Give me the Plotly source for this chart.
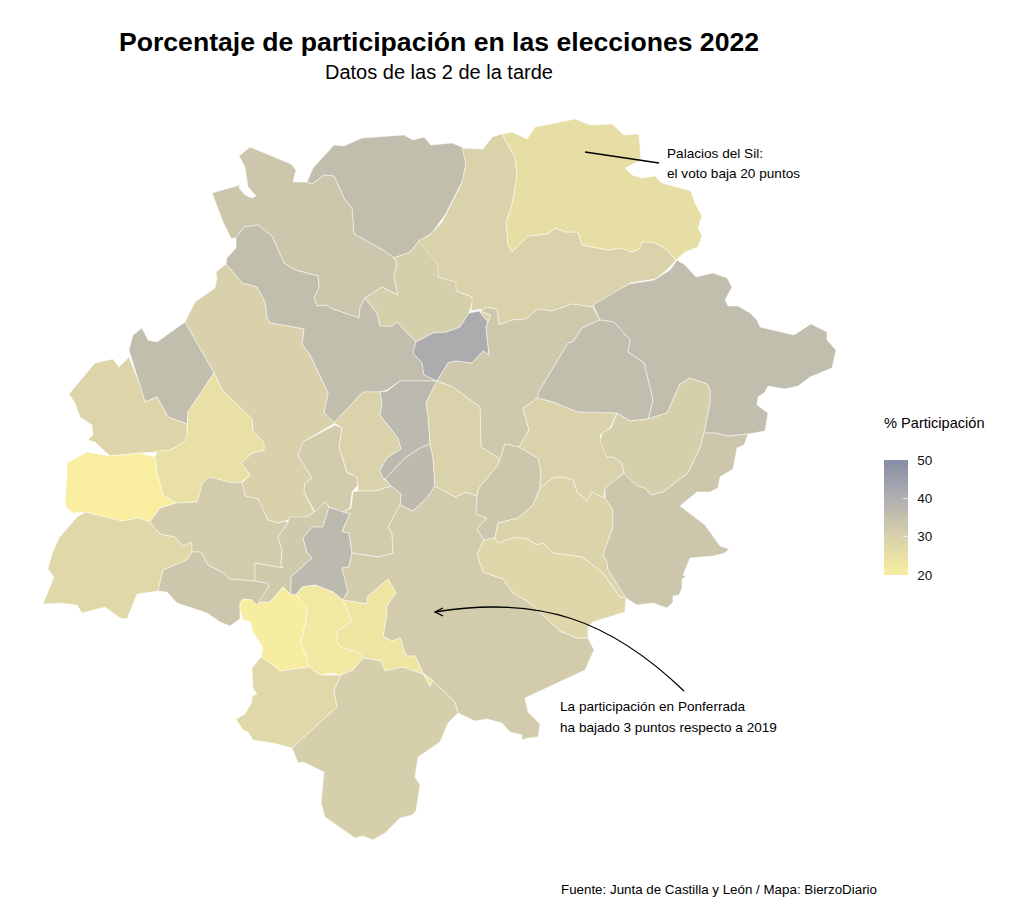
import plotly.graph_objects as go
from plotly.colors import sample_colorscale

# Map outlines of the municipalities, in the map's own units
norte_gris = [(307,182),(313,168),(334,145),(344,146),(362,138),(404,135),(413,140),(424,137),(431,145),(452,143),(462,147),(466,163),(463,180),(445,215),(432,233),(419,241),(410,252),(394,258),(383,250),(354,234),(352,208),(345,200),(334,176),(324,175),(312,184)]
noroeste = [(239,156),(250,147),(291,164),(296,170),(293,182),(307,182),(312,184),(324,175),(334,176),(345,200),(352,208),(354,234),(383,250),(394,258),(397,263),(394,277),(398,295),(382,287),(365,298),(360,308),(359,318),(330,308),(327,305),(317,306),(314,298),(319,287),(318,276),(295,270),(284,263),(272,236),(258,225),(244,227),(236,238),(231,238),(223,222),(212,193),(240,185),(239,188),(245,195),(252,198),(256,196),(248,187),(245,167)]
centro_oeste = [(236,238),(244,227),(258,225),(272,236),(284,263),(295,270),(318,276),(319,287),(314,298),(317,306),(327,305),(330,308),(359,318),(360,308),(365,298),(377,313),(380,326),(392,326),(397,322),(416,342),(413,353),(422,363),(424,375),(437,381),(400,381),(387,390),(380,392),(363,392),(334,423),(324,413),(328,393),(310,355),(302,344),(304,329),(270,323),(267,318),(265,302),(257,287),(242,283),(226,264),(227,258),(236,248)]
oeste_largo = [(185,322),(190,312),(195,302),(215,288),(217,278),(216,272),(226,264),(242,283),(257,287),(265,302),(267,318),(270,323),(304,329),(302,344),(310,355),(328,393),(324,413),(335,423),(303,442),(298,455),(312,478),(305,483),(304,492),(314,512),(307,517),(288,520),(278,523),(268,520),(258,499),(245,496),(242,483),(250,475),(241,463),(252,453),(264,450),(264,443),(253,431),(252,419),(222,390),(214,373)]
oeste_gris = [(185,322),(214,373),(188,412),(187,424),(168,417),(157,397),(145,402),(140,385),(129,350),(133,335),(142,328),(148,340),(157,342)]
oeste_palido = [(69,394),(95,363),(113,359),(119,367),(129,357),(140,385),(145,402),(157,397),(168,417),(187,424),(187,437),(183,443),(170,450),(156,452),(140,453),(110,456),(95,442),(88,440),(93,435),(92,425),(80,417),(75,403)]
oeste_amarillo = [(214,373),(222,390),(252,419),(253,431),(264,443),(264,450),(252,453),(241,463),(250,475),(242,482),(233,483),(210,477),(203,482),(197,502),(176,503),(163,495),(157,473),(155,457),(157,451),(170,450),(183,443),(187,437),(188,412)]
oeste_intenso = [(67,463),(87,452),(110,456),(140,453),(155,457),(157,473),(163,495),(176,503),(160,508),(150,522),(139,518),(122,521),(85,512),(73,513),(66,507),(65,500),(67,477)]
suroeste = [(85,512),(122,521),(139,518),(150,522),(160,534),(175,537),(183,546),(192,542),(192,552),(187,560),(163,570),(158,591),(137,594),(127,619),(120,618),(105,607),(82,613),(77,605),(60,603),(43,604),(54,577),(48,569),(52,554),(59,538),(77,517)]
oeste_medio = [(150,522),(160,508),(176,503),(197,502),(203,482),(210,477),(233,483),(242,482),(245,496),(258,499),(268,520),(278,523),(286,521),(288,523),(278,537),(282,550),(281,565),(283,568),(255,563),(255,581),(230,579),(222,572),(208,565),(201,552),(192,552),(192,542),(183,546),(175,537),(160,534)]
oeste_sur = [(192,552),(201,552),(208,565),(222,572),(230,579),(255,581),(267,583),(269,586),(257,606),(252,600),(243,599),(240,603),(240,619),(230,626),(220,622),(207,613),(177,603),(167,592),(158,591),(163,570),(187,560)]
bolsa = [(255,563),(283,568),(281,565),(282,550),(278,537),(288,523),(289,517),(307,517),(314,512),(325,502),(329,507),(323,527),(312,527),(303,538),(307,552),(312,558),(291,577),(291,595),(283,587),(270,602),(257,605),(269,586),(267,583),(255,581)]
centro_gris = [(329,507),(350,514),(342,531),(349,533),(352,553),(349,567),(342,568),(348,591),(343,600),(333,592),(315,585),(302,587),(296,595),(291,595),(291,577),(312,558),(307,552),(303,538),(312,527),(323,527)]
centro_beige = [(303,442),(335,425),(342,428),(339,447),(347,473),(357,476),(358,485),(352,492),(350,508),(343,512),(329,507),(325,502),(315,512),(304,492),(305,483),(312,478),(298,455)]
centro_palido = [(334,423),(363,392),(380,392),(382,403),(380,415),(398,438),(401,449),(387,458),(380,470),(382,477),(391,486),(376,491),(358,491),(357,477),(347,472),(339,447),(342,428)]
franja_gris = [(380,392),(387,391),(400,381),(437,381),(426,403),(428,415),(430,444),(420,448),(405,458),(385,479),(382,477),(380,470),(387,458),(401,449),(398,438),(380,415),(382,403)]
bajo_franja = [(385,479),(405,458),(420,448),(430,444),(433,457),(435,486),(427,498),(413,511),(400,505),(401,494),(391,486)]
sur_centro = [(358,491),(376,491),(391,486),(401,494),(400,505),(388,527),(392,533),(393,553),(379,557),(352,553),(349,533),(342,532),(350,514),(343,512),(351,508),(353,492)]
ponferrada = [(435,486),(455,497),(466,492),(477,496),(476,514),(487,518),(477,529),(484,540),(477,554),(483,572),(503,579),(513,593),(530,603),(560,631),(577,638),(588,638),(594,650),(585,670),(525,698),(528,712),(540,724),(538,737),(528,738),(522,740),(522,735),(510,732),(502,723),(487,719),(475,721),(458,713),(455,702),(433,681),(423,673),(415,656),(406,656),(400,638),(392,641),(383,636),(387,613),(386,607),(396,593),(388,579),(367,597),(367,604),(343,600),(348,592),(342,568),(349,567),(352,553),(379,557),(393,553),(392,533),(388,527),(400,505),(413,511),(427,498)]
amarillo_este = [(343,600),(367,604),(367,597),(388,579),(396,593),(386,607),(387,613),(383,636),(392,641),(400,638),(406,656),(415,656),(423,673),(433,681),(430,686),(423,674),(403,667),(385,671),(381,661),(363,658),(358,652),(342,648),(337,642),(337,631),(352,621)]
amarillo_medio = [(296,595),(302,587),(315,585),(333,592),(343,600),(352,621),(337,631),(337,642),(342,648),(358,652),(363,658),(353,670),(341,675),(332,673),(320,675),(309,667),(307,658),(301,643),(306,620),(307,607)]
amarillo_oeste = [(240,603),(243,599),(252,600),(257,605),(260,602),(270,602),(283,587),(290,594),(296,595),(307,607),(306,620),(301,643),(307,658),(309,667),(280,671),(270,663),(261,657),(263,648),(252,630),(251,622),(243,620),(240,610)]
sur_oeste = [(261,657),(270,663),(280,671),(309,667),(320,675),(341,675),(334,690),(337,707),(292,748),(273,743),(253,740),(248,732),(243,730),(236,719),(245,714),(252,702),(252,696),(257,694),(253,688),(252,668)]
sur = [(341,675),(353,670),(363,658),(381,661),(385,671),(403,667),(423,674),(430,686),(433,681),(455,702),(458,713),(448,723),(440,742),(418,757),(415,777),(420,785),(416,811),(412,815),(400,818),(385,833),(373,840),(363,836),(355,838),(325,817),(321,803),(324,772),(303,762),(298,763),(292,748),(337,707),(334,690)]
noreste_palido = [(462,148),(483,149),(492,137),(502,134),(515,158),(517,175),(512,205),(506,222),(508,245),(512,252),(528,236),(547,234),(556,228),(565,232),(578,232),(582,245),(608,250),(620,248),(632,252),(639,249),(642,242),(653,242),(665,248),(676,260),(667,270),(655,279),(630,283),(593,307),(572,304),(552,311),(538,309),(526,319),(512,320),(499,325),(497,309),(486,307),(482,312),(491,315),(488,322),(481,314),(481,309),(471,311),(472,297),(456,291),(455,282),(438,277),(437,265),(418,241),(430,235),(442,222),(462,183),(466,163)]
palacios_del_sil = [(502,134),(512,132),(527,139),(535,127),(575,119),(590,125),(612,124),(624,135),(639,134),(641,160),(625,168),(632,175),(642,178),(655,176),(662,183),(691,191),(695,203),(702,216),(698,228),(702,236),(698,247),(685,252),(676,260),(665,248),(653,242),(642,242),(639,249),(632,252),(620,248),(608,250),(582,245),(578,232),(565,232),(556,228),(547,234),(528,236),(512,252),(508,245),(506,222),(512,205),(517,175),(515,158)]
norte_medio = [(394,258),(410,252),(419,241),(438,265),(438,277),(456,282),(456,291),(472,297),(472,302),(469,313),(460,327),(447,332),(433,333),(416,342),(397,322),(392,326),(380,326),(377,313),(365,298),(382,287),(398,295),(394,277),(397,263)]
centro_oscuro = [(416,342),(433,333),(447,332),(460,327),(469,313),(480,311),(481,314),(488,322),(486,327),(489,355),(483,351),(472,363),(455,361),(448,363),(437,381),(424,375),(422,363),(413,353)]
centro_grande = [(499,325),(512,320),(526,319),(538,309),(552,311),(572,304),(593,307),(600,320),(582,328),(573,342),(568,343),(547,378),(538,393),(538,398),(523,408),(529,430),(519,447),(505,444),(500,459),(481,447),(480,407),(453,387),(437,381),(448,363),(455,361),(472,363),(483,351),(489,355),(486,327),(488,322),(491,315),(482,312),(486,307),(497,309)]
centro_vertical = [(437,381),(453,387),(480,407),(481,447),(500,459),(498,465),(479,488),(477,496),(466,492),(455,497),(435,486),(433,457),(430,444),(428,415),(426,403)]
centro_sur = [(505,444),(519,447),(538,458),(541,472),(540,488),(533,505),(518,518),(498,523),(495,538),(484,540),(477,529),(487,518),(476,514),(477,496),(479,488),(498,465),(500,459)]
este_palido = [(538,398),(553,402),(578,412),(593,412),(617,413),(610,428),(600,435),(607,457),(613,457),(622,463),(624,473),(605,488),(604,498),(597,495),(592,492),(587,501),(577,492),(573,480),(563,477),(553,478),(540,488),(541,472),(538,458),(519,447),(529,430),(523,408)]
este_sur = [(540,488),(553,478),(563,477),(573,480),(577,492),(587,501),(592,492),(597,495),(605,498),(613,510),(613,527),(603,555),(607,562),(608,570),(626,598),(620,597),(603,573),(582,557),(553,553),(543,543),(537,545),(525,538),(513,538),(498,543),(495,538),(498,523),(518,518),(533,505)]
franja_sur = [(484,540),(495,538),(498,543),(513,538),(525,538),(537,545),(543,543),(553,553),(582,557),(603,573),(620,597),(626,598),(625,612),(593,622),(588,627),(588,638),(577,638),(560,631),(530,603),(513,593),(503,579),(483,572),(477,554)]
noreste_gris = [(593,305),(629,284),(654,280),(670,270),(677,260),(685,265),(696,277),(713,273),(727,278),(732,287),(725,300),(728,306),(738,306),(750,313),(757,320),(760,327),(794,335),(811,324),(827,332),(827,340),(836,350),(832,368),(810,377),(798,386),(785,389),(768,386),(765,392),(758,397),(757,405),(768,413),(765,431),(748,434),(728,436),(715,433),(704,433),(710,403),(710,390),(707,384),(690,378),(680,384),(667,413),(648,419),(653,400),(644,363),(628,352),(630,340),(614,322),(600,320)]
este_gris = [(600,320),(614,322),(630,340),(628,352),(644,363),(653,400),(648,419),(630,421),(617,413),(593,412),(578,412),(553,402),(538,398),(538,393),(547,378),(568,343),(573,342),(582,328)]
este_oblongo = [(617,413),(630,421),(648,419),(667,413),(680,384),(690,378),(707,384),(710,390),(710,403),(704,433),(700,448),(688,473),(663,492),(651,495),(645,488),(637,486),(624,473),(622,463),(613,457),(607,457),(600,442),(602,433),(611,428)]
este_extremo = [(704,433),(715,433),(728,436),(748,434),(744,445),(737,448),(733,469),(720,477),(718,488),(710,492),(697,492),(680,506),(705,525),(720,546),(729,549),(725,553),(713,556),(690,558),(683,575),(686,577),(682,579),(682,588),(679,595),(673,596),(673,602),(667,608),(653,603),(637,605),(626,598),(608,570),(607,562),(603,555),(613,527),(613,510),(605,498),(605,488),(624,473),(637,486),(645,488),(651,495),(663,492),(688,473),(700,448)]

municipios = [
    ("Norte gris", norte_gris, 35.5), ("Noroeste", noroeste, 33), ("Centro oeste", centro_oeste, 35.5),
    ("Oeste largo", oeste_largo, 30), ("Oeste gris", oeste_gris, 35.5), ("Oeste pálido", oeste_palido, 28.5),
    ("Oeste amarillo", oeste_amarillo, 25), ("Oeste intenso", oeste_intenso, 20), ("Suroeste", suroeste, 27.5),
    ("Oeste medio", oeste_medio, 31.5), ("Oeste sur", oeste_sur, 33), ("Bolsa", bolsa, 32),
    ("Centro gris", centro_gris, 37), ("Centro beige", centro_beige, 31.5), ("Centro pálido", centro_palido, 29.5),
    ("Franja gris", franja_gris, 37), ("Bajo franja", bajo_franja, 36.5), ("Sur centro", sur_centro, 31.5),
    ("Ponferrada", ponferrada, 31.5), ("Amarillo este", amarillo_este, 23), ("Amarillo medio", amarillo_medio, 22),
    ("Amarillo oeste", amarillo_oeste, 20.5), ("Sur oeste", sur_oeste, 27.5), ("Sur", sur, 30.5),
    ("Noreste pálido", noreste_palido, 29.5), ("Palacios del Sil", palacios_del_sil, 25.5), ("Norte medio", norte_medio, 30.5),
    ("Centro oscuro", centro_oscuro, 41), ("Centro grande", centro_grande, 32.5), ("Centro vertical", centro_vertical, 29.5),
    ("Centro sur", centro_sur, 33), ("Este pálido", este_palido, 29.5), ("Este sur", este_sur, 29),
    ("Franja sur", franja_sur, 28), ("Noreste gris", noreste_gris, 35.5), ("Este gris", este_gris, 35.5),
    ("Este oblongo", este_oblongo, 30.5), ("Este extremo", este_extremo, 33),
]

escala_min, escala_max = 20, 50
escala = [[0, "#F9EE9F"], [1/3, "#D8D1AB"], [2/3, "#B0AFB0"], [1, "#868EA6"]]
marcas = [20, 30, 40, 50]
fuente = "Liberation Sans"

fig = go.Figure()
for nombre, contorno, valor in municipios:
    xs = [p[0] for p in contorno] + [contorno[0][0]]
    ys = [p[1] for p in contorno] + [contorno[0][1]]
    color = sample_colorscale(escala, [(valor - escala_min) / (escala_max - escala_min)])[0]
    fig.add_trace(go.Scatter(x=xs, y=ys, mode="lines", fill="toself", fillcolor=color,
                             line=dict(color="rgba(255,255,255,0.8)", width=0.6),
                             name=nombre, text=f"{nombre}: {valor}%", hoverinfo="text", showlegend=False))

# Colour bar: the lower one carries the labels, the upper one the pale inside ticks
barra = dict(thickness=24, thicknessmode="pixels", len=115, lenmode="pixels",
             x=884/1020, xanchor="left", y=1-460/922, yanchor="top", ypad=0, xpad=0,
             outlinewidth=0, tickvals=marcas, tickwidth=1)
fig.add_trace(go.Scatter(x=[None], y=[None], mode="markers", showlegend=False, hoverinfo="skip",
    marker=dict(color=[escala_min], cmin=escala_min, cmax=escala_max, colorscale=escala, showscale=True,
        colorbar=dict(barra, ticks="outside", ticklen=7, tickcolor="white",
                      tickfont=dict(family=fuente, size=13.5, color="#111111")))))
fig.add_trace(go.Scatter(x=[None], y=[None], mode="markers", showlegend=False, hoverinfo="skip",
    marker=dict(color=[escala_min], cmin=escala_min, cmax=escala_max, colorscale=escala, showscale=True,
        colorbar=dict(barra, ticks="inside", ticklen=5, tickcolor="rgba(255,255,255,0.7)", showticklabels=False))))

def texto(x, y, t, size, bold=False, anchor="left"):
    fig.add_annotation(x=x, y=y, xref="x", yref="y", text=f"<b>{t}</b>" if bold else t, showarrow=False,
                       xanchor=anchor, yanchor="middle", borderpad=0, borderwidth=0,
                       font=dict(family=fuente, size=size, color="#000000"))

texto(439, 42, "Porcentaje de participación en las elecciones 2022", 26.6, True, "center")
texto(439, 72, "Datos de las 2 de la tarde", 20, False, "center")
texto(667, 153, "Palacios del Sil:", 13.6)
texto(667, 173, "el voto baja 20 puntos", 13.6)
texto(560, 706, "La participación en Ponferrada", 13.6)
texto(560, 727, "ha bajado 3 puntos respecto a 2019", 13.6)
texto(561, 889, "Fuente: Junta de Castilla y León / Mapa: BierzoDiario", 13.35)
texto(884, 423, "% Participación", 14.6)

fig.add_shape(type="line", x0=585, y0=152, x1=659, y1=163, line=dict(color="black", width=1.3), xref="x", yref="y")
fig.add_shape(type="path", path="M 684 691 C 610 620, 540 595, 435 612", line=dict(color="black", width=1.3), xref="x", yref="y")
fig.add_shape(type="path", path="M 443 608 L 435 612 L 443 616", line=dict(color="black", width=1.3), xref="x", yref="y")

fig.update_layout(width=1020, height=922, margin=dict(l=0, r=0, t=0, b=0), paper_bgcolor="white", plot_bgcolor="white",
                  xaxis=dict(range=[0, 1020], visible=False, fixedrange=True),
                  yaxis=dict(range=[922, 0], visible=False, fixedrange=True))
fig.write_html("out.html", post_script="document.body.style.margin='0';", config=dict(displayModeBar=False))
